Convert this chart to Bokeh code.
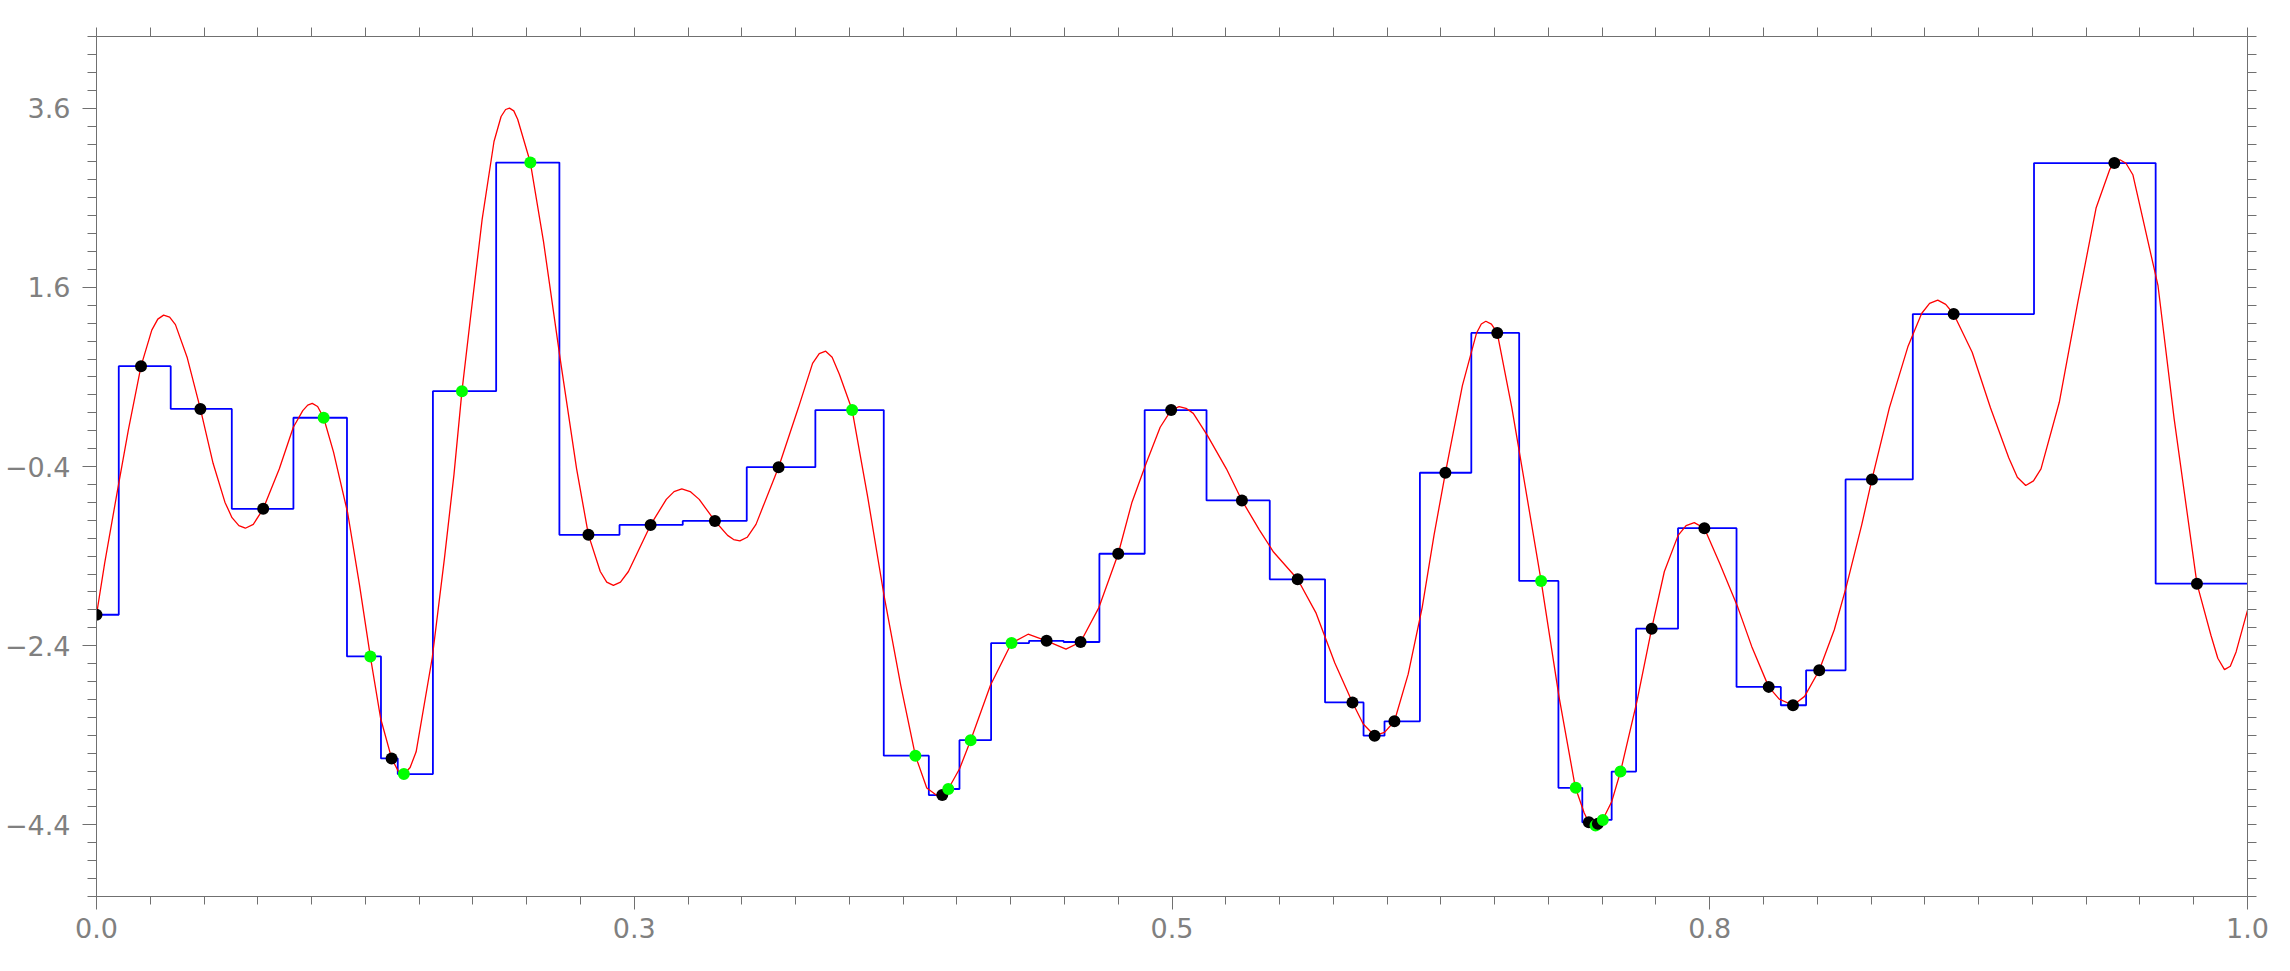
import numpy as np
from bokeh.plotting import figure
from bokeh.models import LinearAxis, FixedTicker, Range1d, ColumnDataSource
from bokeh.transform import factor_cmap
from bokeh.embed import file_html
from bokeh.resources import INLINE

# ---------------- data ----------------
x_domain = [0.0, 1.0]
y_domain = [-5.2, 4.4]
x_ticks = [0.0, 0.25, 0.5, 0.75, 1.0]
x_tick_labels = ["0.0", "0.3", "0.5", "0.8", "1.0"]
y_ticks = [-4.4, -2.4, -0.4, 1.6, 3.6]
y_tick_labels = ["\u22124.4", "\u22122.4", "\u22120.4", "1.6", "3.6"]

sample_x = [0.0, 0.0207, 0.0483, 0.0775, 0.1056, 0.1273, 0.1372, 0.1429, 0.1699, 0.2017,
            0.2287, 0.2576, 0.2875, 0.3171, 0.3513, 0.3807, 0.3932, 0.3960, 0.4064, 0.4254,
            0.4417, 0.4575, 0.4750, 0.4996, 0.5325, 0.5584, 0.5839, 0.5942, 0.6034, 0.6271,
            0.6512, 0.6716, 0.6877, 0.6938, 0.6969, 0.6980, 0.7003, 0.7085, 0.7230, 0.7475,
            0.7774, 0.7887, 0.8009, 0.8254, 0.8634, 0.9381, 0.9765]
sample_y = [-2.055, 0.720, 0.243, -0.872, 0.144, -2.520, -3.659, -3.833, 0.441, 2.993,
            -1.163, -1.052, -1.008, -0.408, 0.230, -3.628, -4.068, -4.000, -3.455, -2.371,
            -2.346, -2.359, -1.374, 0.230, -0.779, -1.659, -3.034, -3.405, -3.244, -0.470,
            1.091, -1.677, -3.987, -4.371, -4.408, -4.389, -4.345, -3.805, -2.210, -1.089,
            -2.860, -3.065, -2.675, -0.544, 1.302, 2.987, -1.708]
sample_kind = ["base", "base", "base", "base", "extra", "extra", "base", "extra", "extra", "extra",
               "base", "base", "base", "base", "extra", "extra", "base", "extra", "extra", "extra",
               "base", "base", "base", "base", "base", "base", "base", "base", "base", "base",
               "base", "extra", "extra", "base", "extra", "base", "extra", "extra", "base", "base",
               "base", "base", "base", "base", "base", "base", "base"]

curve_x = [0.0000, 0.0038, 0.0097, 0.0148, 0.0207, 0.0257, 0.0285, 0.0312, 0.0340, 0.0367, 0.0422, 0.0483,
           0.0542, 0.0597, 0.0630, 0.0662, 0.0692, 0.0729, 0.0775, 0.0850, 0.0915, 0.0959, 0.0982, 0.1003,
           0.1028, 0.1056, 0.1102, 0.1168, 0.1223, 0.1273, 0.1321, 0.1372, 0.1403, 0.1431, 0.1458, 0.1486,
           0.1561, 0.1618, 0.1662, 0.1699, 0.1738, 0.1793, 0.1848, 0.1881, 0.1902, 0.1920, 0.1940, 0.1958,
           0.2017, 0.2078, 0.2155, 0.2232, 0.2287, 0.2342, 0.2372, 0.2403, 0.2436, 0.2473, 0.2576, 0.2649,
           0.2685, 0.2721, 0.2760, 0.2802, 0.2875, 0.2934, 0.2962, 0.2991, 0.3025, 0.3066, 0.3171, 0.3263, 0.3329, 0.3360, 0.3390,
           0.3420, 0.3454, 0.3513, 0.3585, 0.3662, 0.3739, 0.3807, 0.3860, 0.3904, 0.3932, 0.3960,
           0.4013, 0.4064, 0.4156, 0.4254, 0.4331, 0.4417, 0.4507, 0.4575, 0.4660, 0.4750,
           0.4814, 0.4880, 0.4945, 0.4996, 0.5033, 0.5065, 0.5099, 0.5165, 0.5253, 0.5325, 0.5406,
           0.5472, 0.5584, 0.5670, 0.5757, 0.5839, 0.5889, 0.5942, 0.5988, 0.6034, 0.6098,
           0.6163, 0.6218, 0.6271, 0.6350, 0.6416, 0.6438, 0.6459, 0.6485, 0.6512, 0.6580, 0.6650, 0.6716,
           0.6799, 0.6875, 0.6916, 0.6937, 0.6967, 0.6982, 0.7003, 0.7044, 0.7085, 0.7161,
           0.7230, 0.7289, 0.7353, 0.7390, 0.7428, 0.7475, 0.7546, 0.7631, 0.7695, 0.7774, 0.7823,
           0.7887, 0.7941, 0.8009, 0.8079, 0.8133, 0.8207, 0.8254, 0.8335, 0.8421, 0.8485,
           0.8522, 0.8560, 0.8597, 0.8634, 0.8720, 0.8805, 0.8890, 0.8930, 0.8969, 0.9005, 0.9040, 0.9125, 0.9211, 0.9296,
           0.9360, 0.9385, 0.9407, 0.9435, 0.9467, 0.9584, 0.9659, 0.9765, 0.9830, 0.9862, 0.9893, 0.9920, 0.9947, 1.0000]
curve_y = [-2.055, -1.479, -0.674, 0.007, 0.720, 1.122, 1.245, 1.290, 1.268, 1.184, 0.813, 0.243,
           -0.364, -0.798, -0.971, -1.060, -1.089, -1.046, -0.872, -0.426, 0.038, 0.224, 0.285, 0.305,
           0.270, 0.144, -0.240, -0.922, -1.727, -2.520, -3.213, -3.659, -3.802, -3.833, -3.760, -3.585,
           -2.532, -1.417, -0.488, 0.441, 1.246, 2.361, 3.228, 3.507, 3.585, 3.600, 3.570, 3.476,
           2.993, 2.113, 0.813, -0.426, -1.163, -1.572, -1.690, -1.727, -1.690, -1.572, -1.052, -0.767,
           -0.680, -0.649, -0.680, -0.767, -1.008, -1.169, -1.215, -1.231, -1.190, -1.046, -0.408, 0.255, 0.751, 0.860, 0.887,
           0.820, 0.627, 0.230, -0.736, -1.851, -2.842, -3.628, -3.988, -4.068, -4.068, -4.000,
           -3.771, -3.455, -2.842, -2.371, -2.272, -2.346, -2.439, -2.359, -1.975, -1.374,
           -0.798, -0.364, 0.038, 0.230, 0.268, 0.250, 0.193, -0.055, -0.426, -0.779, -1.107,
           -1.355, -1.659, -2.037, -2.594, -3.034, -3.275, -3.405, -3.368, -3.244, -2.718,
           -1.975, -1.169, -0.470, 0.503, 1.091, 1.190, 1.221, 1.190, 1.091, 0.255, -0.736, -1.677,
           -2.966, -3.981, -4.266, -4.372, -4.403, -4.390, -4.341, -4.143, -3.808, -3.028,
           -2.210, -1.572, -1.169, -1.060, -1.027, -1.089, -1.479, -1.975, -2.408, -2.860, -2.997,
           -3.065, -2.966, -2.675, -2.222, -1.758, -1.046, -0.544, 0.255, 0.936, 1.308,
           1.420, 1.457, 1.410, 1.302, 0.875, 0.255, -0.302, -0.520, -0.612, -0.560, -0.426, 0.317, 1.432, 2.485,
           2.918, 2.995, 3.024, 2.985, 2.857, 1.618, 0.131, -1.708, -2.284, -2.540, -2.668, -2.630, -2.470, -2.006]

# nearest-sample step approximation built from the samples
mids = [(a + b) / 2 for a, b in zip(sample_x[:-1], sample_x[1:])]
bounds = [x_domain[0]] + mids + [x_domain[1]]
step_x, step_y = [], []
for i, yv in enumerate(sample_y):
    step_x += [bounds[i], bounds[i + 1]]
    step_y += [yv, yv]

# ---------------- figure ----------------
p = figure(width=2290, height=971,
           x_range=Range1d(*x_domain), y_range=Range1d(*y_domain),
           output_backend="svg", toolbar_location=None,
           x_axis_location=None, y_axis_location=None,
           min_border_left=96, min_border_right=43,
           min_border_top=36, min_border_bottom=75)
p.outline_line_color = None
p.grid.grid_line_color = None
p.background_fill_color = "white"
p.border_fill_color = "white"

x_minor = list(np.round(np.arange(x_domain[0], x_domain[1] + 1e-9, 0.025), 4))
y_minor = list(np.round(np.arange(y_domain[0], y_domain[1] + 1e-9, 0.2), 4))

AX = "#707070"
LBL = "#808080"
FONT = "DejaVu Sans"


def style(ax, major_out, minor_out):
    ax.axis_line_color = AX
    ax.axis_line_width = 1
    ax.major_tick_line_color = AX
    ax.minor_tick_line_color = AX
    ax.major_tick_out = major_out
    ax.major_tick_in = 0
    ax.minor_tick_out = minor_out
    ax.minor_tick_in = 0
    ax.major_label_text_font = FONT
    ax.major_label_text_font_size = "27px"
    ax.major_label_text_color = LBL


bottom = LinearAxis(ticker=FixedTicker(ticks=x_ticks, minor_ticks=x_minor),
                    major_label_overrides=dict(zip(x_ticks, x_tick_labels)))
style(bottom, 13, 8)
bottom.major_label_standoff = 8
p.add_layout(bottom, "below")

left = LinearAxis(ticker=FixedTicker(ticks=y_ticks, minor_ticks=y_minor),
                  major_label_overrides=dict(zip(y_ticks, y_tick_labels)))
style(left, 14, 9)
left.major_label_standoff = 12
p.add_layout(left, "left")

top = LinearAxis(ticker=FixedTicker(ticks=[], minor_ticks=x_minor))
style(top, 13, 9)
p.add_layout(top, "above")

right = LinearAxis(ticker=FixedTicker(ticks=[], minor_ticks=y_minor))
style(right, 14, 9)
p.add_layout(right, "right")

p.line(step_x, step_y, line_color="#0000ff", line_width=1.8)
p.line(curve_x, curve_y, line_color="#ff0000", line_width=1.3)

src = ColumnDataSource(dict(x=sample_x, y=sample_y, kind=sample_kind))
p.scatter("x", "y", source=src, size=12, line_color=None,
          fill_color=factor_cmap("kind", palette=["#000000", "#00ff00"], factors=["base", "extra"]))

open("out.html", "w").write(file_html(p, INLINE))
